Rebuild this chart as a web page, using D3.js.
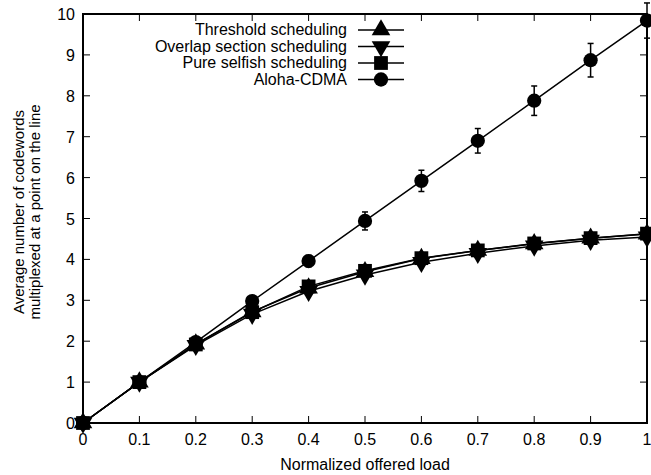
<!DOCTYPE html>
<html><head><meta charset="utf-8">
<script src="https://cdn.jsdelivr.net/npm/d3@7"></script>
<style>body{margin:0;background:#fff}svg{display:block}text{font-family:"Liberation Sans",Arial,sans-serif;fill:#000}</style>
</head><body><svg id="c" width="651" height="475"></svg>
<script>
const loads = [0,0.1,0.2,0.3,0.4,0.5,0.6,0.7,0.8,0.9,1.0];
const threshold = [0,1.0,1.93,2.72,3.3,3.7,4.02,4.22,4.38,4.52,4.62];
const overlap   = [0,1.0,1.9,2.66,3.22,3.62,3.93,4.15,4.33,4.47,4.55];
const selfish   = [0,1.0,1.92,2.71,3.34,3.72,4.03,4.22,4.39,4.52,4.63];
const aloha     = [0,1.0,1.98,2.98,3.96,4.94,5.92,6.9,7.88,8.87,9.84];
const alohaErr  = [0,0,0.03,0.08,0.14,0.22,0.26,0.3,0.36,0.41,0.43];
const xTicks = [0,0.1,0.2,0.3,0.4,0.5,0.6,0.7,0.8,0.9,1];
const yTicks = [0,1,2,3,4,5,6,7,8,9,10];
const seriesNames = ["Threshold scheduling","Overlap section scheduling","Pure selfish scheduling","Aloha-CDMA"];

const svg = d3.select("#c");
const L=83,R=647,T=14,B=423;
const x = d3.scaleLinear().domain([0,1]).range([L,R]);
const y = d3.scaleLinear().domain([0,10]).range([B,T]);

const g = svg.append("g");
xTicks.forEach(v=>{
  g.append("line").attr("x1",x(v)).attr("x2",x(v)).attr("y1",B).attr("y2",B-7).attr("stroke","#000").attr("stroke-width",1);
  g.append("line").attr("x1",x(v)).attr("x2",x(v)).attr("y1",T).attr("y2",T+7).attr("stroke","#000").attr("stroke-width",1);
  g.append("text").attr("x",x(v)).attr("y",445).attr("text-anchor","middle").attr("font-size",16).text(d3.format("")(v));
});
yTicks.forEach(v=>{
  g.append("line").attr("x1",L).attr("x2",L+7).attr("y1",y(v)).attr("y2",y(v)).attr("stroke","#000").attr("stroke-width",1);
  g.append("line").attr("x1",R).attr("x2",R-7).attr("y1",y(v)).attr("y2",y(v)).attr("stroke","#000").attr("stroke-width",1);
  g.append("text").attr("x",L-8).attr("y",y(v)+6).attr("text-anchor","end").attr("font-size",16).text(v);
});
svg.append("rect").attr("x",L).attr("y",T).attr("width",R-L).attr("height",B-T).attr("fill","none").attr("stroke","#000").attr("stroke-width",2);

svg.append("text").attr("x",(L+R)/2).attr("y",470).attr("text-anchor","middle").attr("font-size",16).text("Normalized offered load");
const yt = svg.append("text").attr("transform",`translate(0,212) rotate(-90)`).attr("text-anchor","middle").attr("font-size",15);
yt.append("tspan").attr("x",0).attr("y",24).text("Average number of codewords");
yt.append("tspan").attr("x",0).attr("y",40).text("multiplexed at a point on the line");

const line = d3.line().x((d,i)=>x(loads[i])).y(d=>y(d));
const data = [threshold,overlap,selfish,aloha];
const syms = [d3.symbolTriangle,"down",d3.symbolSquare,d3.symbolCircle];
const sizes = [150,150,190,160];

function drawMarker(sel,k,cx,cy){
  if(syms[k]==="down"){
    sel.append("path").attr("d",d3.symbol(d3.symbolTriangle,sizes[k])()).attr("transform",`translate(${cx},${cy}) rotate(180)`).attr("fill","#000");
  } else {
    sel.append("path").attr("d",d3.symbol(syms[k],sizes[k])()).attr("transform",`translate(${cx},${cy})`).attr("fill","#000");
  }
}

const eb = svg.append("g");
aloha.forEach((v,i)=>{
  const e=alohaErr[i]; if(e<=0) return;
  const cx=x(loads[i]);
  eb.append("line").attr("x1",cx).attr("x2",cx).attr("y1",y(v-e)).attr("y2",y(v+e)).attr("stroke","#000").attr("stroke-width",1.5);
  [v-e,v+e].forEach(w=>eb.append("line").attr("x1",cx-3).attr("x2",cx+3).attr("y1",y(w)).attr("y2",y(w)).attr("stroke","#000").attr("stroke-width",1.5));
});

data.forEach((arr,k)=>{
  const gg = svg.append("g");
  gg.append("path").attr("d",line(arr)).attr("fill","none").attr("stroke","#000").attr("stroke-width",1.5);
  arr.forEach((v,i)=>drawMarker(gg,k,x(loads[i]),y(v)));
});

const lg = svg.append("g");
const rowsY=[30,46.5,63,79.5];
seriesNames.forEach((n,k)=>{
  const yy=rowsY[k];
  lg.append("text").attr("x",347).attr("y",yy+5).attr("text-anchor","end").attr("font-size",16).text(n);
  lg.append("line").attr("x1",358).attr("x2",404).attr("y1",yy).attr("y2",yy).attr("stroke","#000").attr("stroke-width",1.5);
  drawMarker(lg,k,381,yy);
});
</script></body></html>
